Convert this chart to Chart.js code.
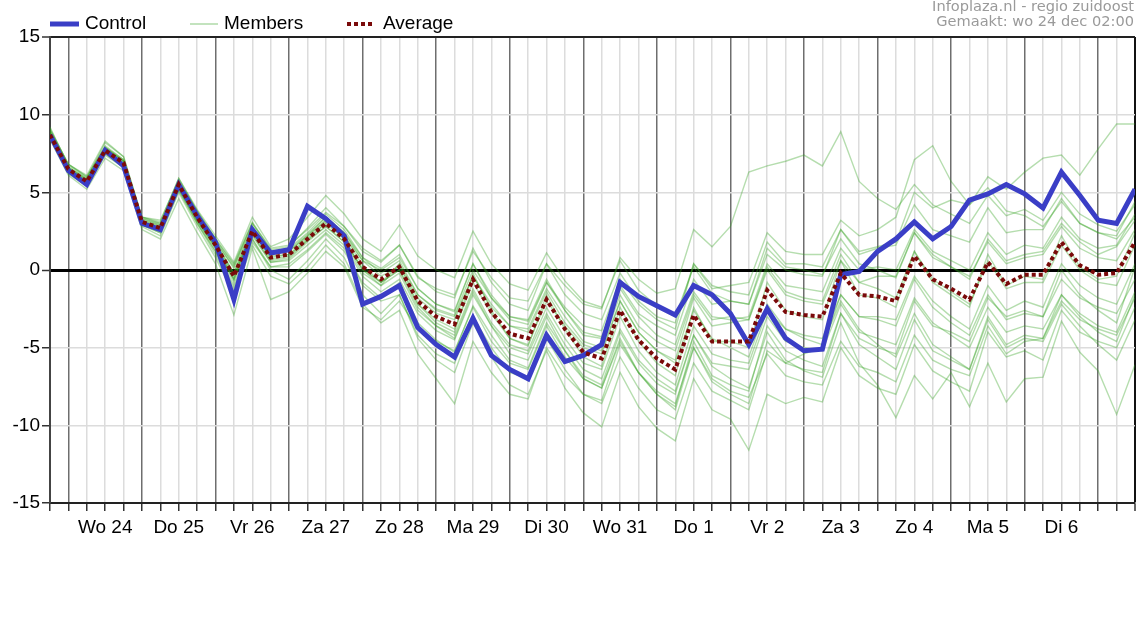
<!DOCTYPE html>
<html><head><meta charset="utf-8">
<script src="https://cdn.jsdelivr.net/npm/chart.js@4.4.1/dist/chart.umd.min.js"></script>
<style>html,body{margin:0;padding:0;background:#fff;}canvas{display:block;}</style>
</head><body>
<canvas id="c" width="1136" height="640"></canvas>
<script>
// x = 6-hourly steps, step 0 = di 23 dec 18:00
const dayLabels = ["Wo 24","Do 25","Vr 26","Za 27","Zo 28","Ma 29","Di 30","Wo 31","Do 1","Vr 2","Za 3","Zo 4","Ma 5","Di 6"];
const yTicks = [-15,-10,-5,0,5,10,15];

const control = [8.7,6.4,5.5,7.7, 6.7,3.0,2.6,5.5, 3.5,1.8,-1.9,2.6, 1.1,1.3,4.1,3.3,
  2.2,-2.2,-1.7,-1.0, -3.7,-4.8,-5.6,-3.1, -5.5,-6.4,-7.0,-4.2, -5.9,-5.5,-4.8,-0.8,
  -1.7,-2.3,-2.9,-1.0, -1.6,-2.8,-4.8,-2.5, -4.4,-5.2,-5.1,-0.3, -0.1,1.2,2.0,3.1,
  2.0,2.8,4.5,4.9, 5.5,4.9,4.0,6.3, 4.8,3.2,3.0,5.2];

const average = [8.7,6.5,5.7,7.7, 6.9,3.1,2.7,5.5, 3.4,1.6,-0.4,2.5, 0.8,1.0,2.0,3.0,
  2.0,0.2,-0.6,0.2, -2.0,-3.0,-3.5,-0.6, -2.7,-4.1,-4.4,-1.9, -3.8,-5.3,-5.7,-2.6,
  -4.5,-5.7,-6.4,-2.9, -4.6,-4.6,-4.6,-1.3, -2.7,-2.9,-3.0,-0.2, -1.6,-1.7,-2.0,0.9,
  -0.6,-1.2,-1.9,0.5, -0.9,-0.3,-0.3,1.8, 0.3,-0.3,-0.2,1.8];

const member01 = [9.0,6.8,6.0,8.0, 7.1,3.4,3.0,5.9, 3.8,2.0,0.3,3.0, 1.4,1.6,2.6,3.7, 2.8,1.2,0.5,1.6, -0.5,-1.2,-1.6,1.2, -0.5,-1.8,-2.0,0.4, -1.0,-2.2,-2.5,0.8, -0.6,-1.5,-1.2,2.6, 1.5,2.8,6.3,6.7, 7.0,7.4,6.7,8.9, 5.7,4.6,3.9,5.5, 4.2,3.6,3.0,4.8, 3.5,3.9,3.2,5.0, 3.6,2.9,2.5,4.2];
const member02 = [9.2,6.7,5.9,7.9, 7.0,3.3,2.9,5.7, 3.5,1.8,-0.2,2.8, 1.0,1.3,2.3,3.4, 2.4,0.8,0.1,1.0, -1.2,-2.2,-2.7,0.4, -1.8,-3.0,-3.3,-0.8, -2.6,-4.0,-4.3,-1.0, -2.8,-3.6,-4.2,-0.6, -2.2,-2.0,-2.2,1.0, 0.0,-0.3,-0.4,2.6, 1.2,1.5,1.8,5.0, 4.0,4.5,4.2,6.0, 5.2,6.3,7.2,7.4, 6.1,7.8,9.4,9.4];
const member03 = [8.5,6.3,5.5,7.6, 6.8,3.0,2.5,5.3, 3.2,1.4,-0.8,2.2, 0.5,0.7,1.8,2.8, 1.8,0.1,-0.8,0.4, -1.6,-2.5,-2.9,0.0, -1.8,-3.2,-3.5,-0.8, -2.4,-3.6,-3.9,-0.6, -2.2,-3.2,-3.8,0.4, -1.2,-1.0,-0.8,2.4, 1.2,1.0,1.0,3.2, 2.2,2.6,3.4,7.1, 8.0,5.7,4.2,5.3, 3.8,3.5,2.8,4.4, 3.0,2.4,2.0,3.4];
const member04 = [8.6,6.4,5.6,7.6, 6.7,2.9,2.4,5.2, 3.0,1.0,-1.4,1.8, 0.2,0.2,1.2,2.3, 1.2,-0.8,-1.8,-0.8, -3.4,-4.5,-5.3,-2.3, -4.2,-5.8,-6.3,-3.4, -5.2,-6.8,-7.4,-4.0, -6.0,-7.3,-8.0,-4.2, -6.2,-7.0,-7.6,-4.0, -5.8,-6.5,-6.9,-3.4, -6.0,-7.4,-9.5,-6.8, -8.3,-6.6,-8.8,-6.0, -8.5,-7.0,-6.9,-3.3, -5.3,-6.5,-9.3,-6.1];
const member05 = [8.8,6.5,5.6,7.7, 6.8,3.0,2.5,5.2, 3.1,1.2,-1.2,2.0, 0.0,-0.6,0.6,2.0, 0.8,-1.6,-2.8,-1.6, -4.4,-5.8,-6.6,-3.4, -5.6,-7.4,-8.0,-5.2, -7.6,-9.2,-10.1,-6.6, -8.8,-10.2,-11.0,-7.0, -9.0,-9.6,-11.6,-8.0, -8.6,-8.2,-8.5,-5.0, -6.8,-7.6,-8.0,-4.8, -6.5,-7.2,-7.8,-4.0, -5.6,-5.2,-5.8,-2.6, -4.0,-4.6,-5.0,-2.4];
const member06 = [8.9,6.6,5.9,8.2, 7.3,3.4,3.1,5.9, 3.9,2.2,0.5,3.4, 1.5,2.0,3.4,4.8, 3.6,2.0,1.2,2.9, 0.9,0.0,-0.5,2.5, 0.4,-0.9,-1.3,1.1, -0.7,-2.0,-2.4,0.6, -1.3,-2.3,-3.0,0.2, -1.5,-2.0,-2.2,1.4, 0.2,0.0,-0.3,2.0, 0.4,0.0,-0.5,2.4, 0.8,0.2,-0.6,2.0, 0.6,1.0,1.2,3.0, 1.8,1.0,1.5,3.2];
const member07 = [8.7,6.4,5.5,7.5, 6.6,2.8,2.2,5.0, 2.8,0.8,-1.6,1.6, -0.4,-0.9,0.2,1.6, 0.4,-2.2,-3.4,-2.6, -5.4,-7.0,-8.6,-4.6, -6.6,-8.0,-8.3,-5.0, -6.8,-8.0,-8.4,-4.8, -6.6,-8.0,-9.0,-5.0, -7.2,-8.0,-8.6,-4.6, -6.0,-6.4,-6.6,-2.8, -4.4,-5.0,-5.4,-2.0, -3.6,-4.0,-4.6,-1.8, -3.0,-2.6,-3.0,-0.6, -1.8,-2.4,-2.8,-0.6];
const member08 = [8.6,6.4,5.6,7.6, 6.8,3.0,2.6,5.3, 3.2,1.4,-0.6,2.3, 0.5,0.6,1.6,2.6, 1.6,-0.4,-1.4,-0.6, -2.8,-3.9,-4.5,-1.6, -3.6,-5.0,-5.4,-2.8, -4.8,-6.4,-7.0,-3.8, -5.8,-7.0,-7.8,-4.2, -6.0,-6.2,-6.4,-3.0, -4.6,-5.0,-5.2,-2.2, -4.0,-4.4,-4.8,-1.8, -3.4,-4.2,-5.0,-2.4, -4.0,-3.6,-3.8,-1.6, -2.8,-3.6,-4.0,-1.4];
const member09 = [8.8,6.6,5.8,7.8, 7.0,3.2,2.8,5.6, 3.5,1.7,-0.2,2.6, 1.0,1.2,2.2,3.2, 2.2,0.6,0.0,0.8, -1.2,-2.2,-2.6,0.4, -1.6,-3.0,-3.2,-0.6, -2.6,-4.2,-4.4,-1.2, -3.0,-4.2,-4.8,-1.4, -3.0,-3.2,-3.0,0.4, -1.0,-1.2,-1.4,1.4, 0.0,0.2,0.0,2.6, 1.2,0.6,0.0,2.4, 1.0,1.6,1.4,3.4, 2.0,1.4,1.6,3.6];
const member10 = [8.5,6.2,5.4,7.4, 6.6,2.9,2.6,5.4, 3.2,1.5,-0.4,2.4, 0.6,0.8,1.9,2.8, 1.8,-0.2,-1.0,-0.2, -2.6,-3.6,-4.2,-1.2, -3.4,-4.8,-5.2,-2.4, -4.4,-6.0,-6.4,-3.0, -5.2,-6.6,-7.4,-3.6, -5.4,-5.8,-6.0,-2.6, -3.8,-4.2,-4.4,-1.6, -3.0,-3.2,-3.6,-0.6, -2.4,-3.4,-4.2,-1.6, -3.2,-2.8,-3.0,0.0, -1.6,-2.6,-3.4,0.2];
const member11 = [8.7,6.5,5.7,7.9, 7.0,3.1,2.6,5.6, 3.4,1.5,-0.6,2.7, 0.8,1.0,2.1,3.2, 2.0,0.0,-1.0,0.4, -2.2,-3.4,-4.0,-0.2, -2.6,-4.4,-4.9,-1.6, -3.8,-5.6,-6.2,-2.4, -4.6,-6.0,-6.8,-2.4, -4.6,-4.6,-5.0,-0.8, -2.6,-3.0,-3.2,0.6, -1.6,-1.8,-2.4,1.2, -0.8,-1.6,-2.4,1.0, -1.0,-0.4,-0.6,2.2, 0.2,-0.6,-0.4,2.4];
const member12 = [8.9,6.6,5.8,7.7, 6.9,3.1,2.8,5.4, 3.3,1.6,-0.3,2.4, 0.9,1.0,1.9,3.1, 2.2,0.3,-0.8,0.0, -2.4,-3.6,-4.4,-1.4, -3.6,-5.4,-5.8,-3.0, -5.2,-7.0,-7.6,-4.4, -6.6,-7.8,-8.6,-5.0, -7.0,-7.8,-8.2,-5.4, -6.8,-7.2,-7.4,-4.6, -6.2,-6.6,-7.2,-4.2, -5.8,-6.4,-6.8,-3.6, -5.4,-4.6,-4.4,-2.0, -3.2,-3.8,-4.2,-1.8];
const member13 = [9.1,6.8,6.1,8.3, 7.3,3.4,3.2,5.8, 3.8,2.0,0.4,3.1, 1.3,1.5,2.7,4.0, 2.8,1.4,0.6,1.6, -0.4,-1.4,-1.8,1.4, -0.8,-2.2,-2.6,0.4, -1.6,-2.8,-3.2,-0.2, -2.0,-3.0,-3.4,0.4, -1.0,-1.4,-1.6,1.8, 0.4,0.4,0.2,2.6, 1.0,1.4,1.6,4.2, 2.6,2.2,1.8,4.0, 2.4,2.6,2.6,4.6, 3.0,2.4,2.2,4.4];
const member14 = [8.6,6.3,5.5,7.5, 6.7,2.9,2.4,5.1, 3.0,1.2,-1.0,2.0, 0.2,0.4,1.3,2.4, 1.4,-1.0,-2.0,-1.6, -4.2,-5.4,-6.0,-3.0, -5.0,-6.6,-7.0,-4.4, -6.4,-8.0,-8.6,-5.6, -7.6,-9.0,-9.6,-6.0, -7.8,-8.4,-9.0,-5.2, -6.0,-5.4,-5.0,-1.6, -3.0,-3.0,-3.2,-0.4, -2.0,-3.0,-3.8,-1.0, -2.6,-2.0,-2.4,0.4, -1.0,-1.8,-2.2,0.4];
const member15 = [8.8,6.5,5.8,7.6, 6.9,3.2,2.9,5.6, 3.6,1.9,0.1,2.8, 1.2,1.4,2.4,3.6, 2.6,0.8,-0.2,0.6, -1.6,-2.6,-3.0,-0.4, -2.4,-3.6,-4.0,-1.4, -3.4,-4.8,-5.2,-2.0, -4.0,-5.2,-6.0,-2.6, -4.4,-5.0,-5.6,-2.2, -3.8,-4.4,-4.8,-2.0, -3.8,-4.8,-5.6,-2.8, -4.8,-5.6,-6.4,-3.2, -5.0,-4.4,-4.6,-2.2, -3.6,-4.8,-5.8,-3.2];
const member16 = [8.6,6.5,5.7,7.8, 7.0,3.1,2.7,5.6, 3.3,1.5,-0.6,2.6, 0.7,0.9,2.0,3.0, 2.0,0.0,-0.8,0.0, -2.2,-3.2,-3.8,-0.8, -2.8,-4.4,-4.8,-2.0, -3.6,-5.0,-5.4,-2.0, -4.0,-5.2,-5.8,-1.8, -3.6,-3.4,-3.2,0.2, -1.4,-1.8,-2.0,1.0, -0.8,-1.2,-1.8,1.2, -0.6,-1.4,-2.2,0.6, -1.2,-0.8,-0.8,1.6, 0.0,-0.8,-1.0,1.6];
const member17 = [8.4,6.1,5.2,7.2, 6.4,2.6,2.0,4.6, 2.4,0.4,-2.9,1.4, -1.9,-1.4,-0.2,1.2, 0.2,-2.4,-3.2,-2.0, -3.8,-4.6,-5.2,-2.4, -4.6,-6.0,-6.4,-3.6, -5.6,-7.0,-7.6,-4.6, -6.6,-8.0,-8.8,-4.6, -6.8,-7.4,-7.8,-3.6, -5.2,-5.8,-6.2,-2.8, -4.8,-5.6,-6.4,-3.2, -5.2,-5.8,-6.4,-3.0, -4.8,-4.2,-4.4,-1.6, -3.0,-4.0,-4.6,-1.6];
const member18 = [9.0,6.8,6.0,7.9, 7.1,3.3,3.0,5.5, 3.6,1.8,0.2,3.0, 1.2,1.2,2.2,3.4, 2.4,0.6,-0.4,0.2, -1.8,-2.8,-3.2,-0.4, -2.2,-3.6,-3.8,-1.2, -3.0,-4.6,-5.0,-1.6, -3.6,-4.6,-5.2,-1.6, -3.2,-3.0,-3.2,0.0, -1.6,-2.0,-2.2,0.6, -0.8,-0.4,-0.4,2.4, 1.0,0.2,-0.4,1.8, 0.4,0.8,1.0,2.8, 1.4,0.8,0.6,2.6];

const members = [member01,member02,member03,member04,member05,member06,member07,member08,member09,
  member10,member11,member12,member13,member14,member15,member16,member17,member18];

const FONT = '"Liberation Sans", Arial, sans-serif';
const toPts = arr => arr.map((y, i) => ({x: i, y}));
const lastStep = control.length - 1;

const datasets = [];
datasets.push({label:'Average', data: toPts(average), borderColor:'#7a0a0a', borderWidth:4,
  borderDash:[4,3], pointRadius:0, tension:0, order:0});
datasets.push({label:'Control', data: toPts(control), borderColor:'#3a3ec6', borderWidth:5,
  pointRadius:0, tension:0, order:1, borderJoinStyle:'miter'});
members.forEach((m, k) => datasets.push({label:'Member ' + (k+1), data: toPts(m),
  borderColor:'rgba(50,160,30,0.36)', borderWidth:1.4, pointRadius:0, tension:0, order:2}));

const decor = {
  id: 'decor',
  afterDraw(chart) {
    const c = chart.ctx;
    c.save();
    // legend
    c.textBaseline = 'middle';
    c.font = '19px ' + FONT;
    c.fillStyle = '#000';
    c.lineCap = 'butt';
    c.strokeStyle = '#3a3ec6'; c.lineWidth = 5; c.setLineDash([]);
    c.beginPath(); c.moveTo(50, 24); c.lineTo(79, 24); c.stroke();
    c.fillText('Control', 85, 24);
    c.strokeStyle = 'rgba(50,160,30,0.45)'; c.lineWidth = 1.3;
    c.beginPath(); c.moveTo(190, 24); c.lineTo(218, 24); c.stroke();
    c.fillText('Members', 224, 24);
    c.strokeStyle = '#7a0a0a'; c.lineWidth = 4; c.setLineDash([4,3]);
    c.beginPath(); c.moveTo(347, 24); c.lineTo(375, 24); c.stroke();
    c.setLineDash([]);
    c.fillText('Average', 383, 24);
    // header
    c.font = '14.6px "DejaVu Sans", sans-serif';
    c.fillStyle = '#9a9a9a';
    c.textAlign = 'right';
    c.fillText('Infoplaza.nl - regio zuidoost', 1134, 7);
    c.fillText('Gemaakt: wo 24 dec 02:00', 1134, 22);
    c.restore();
  }
};

new Chart(document.getElementById('c'), {
  type: 'line',
  data: { datasets },
  options: {
    responsive: false,
    animation: false,
    devicePixelRatio: 1,
    layout: { padding: { top: 37, right: 1, left: 0, bottom: 0 } },
    plugins: { legend: { display: false }, tooltip: { enabled: false } },
    scales: {
      x: {
        type: 'linear', min: 0, max: lastStep,
        afterFit: s => { s.height = 137; s.paddingRight = 0; s.paddingLeft = 0; },
        ticks: {
          stepSize: 1, autoSkip: false, maxRotation: 0, padding: 5,
          color: '#000', font: { size: 19, family: FONT },
          callback: v => (v % 4 === 3 && v < lastStep) ? dayLabels[(v - 3) / 4] : ''
        },
        grid: {
          tickLength: 8, tickColor: '#333', tickWidth: 1.5,
          color: ctx => {
            const v = ctx.tick ? ctx.tick.value : 0;
            if (v === lastStep) return '#111';
            if ((v - 1) % 4 === 0) return '#6e6e6e';
            return '#dcdcdc';
          },
          lineWidth: ctx => {
            const v = ctx.tick ? ctx.tick.value : 0;
            if (v === lastStep) return 2;
            return 1.5;
          }
        },
        border: { display: true, color: '#222', width: 2 }
      },
      y: {
        min: -15, max: 15,
        afterFit: s => { s.width = 50; },
        afterBuildTicks: s => { s.ticks = yTicks.map(v => ({value: v})); },
        ticks: { stepSize: 5, padding: 2, color: '#000', font: { size: 19, family: FONT } },
        grid: {
          tickLength: 8, tickColor: '#333', tickWidth: 1.5,
          color: ctx => {
            const v = ctx.tick ? ctx.tick.value : 0;
            if (v === 0) return '#000';
            if (v === 15) return '#222';
            return '#dcdcdc';
          },
          lineWidth: ctx => {
            const v = ctx.tick ? ctx.tick.value : 0;
            if (v === 0) return 3;
            if (v === 15) return 2;
            return 1.5;
          }
        },
        border: { display: true, color: '#444', width: 2 }
      }
    }
  },
  plugins: [decor]
});
</script>
</body></html>
